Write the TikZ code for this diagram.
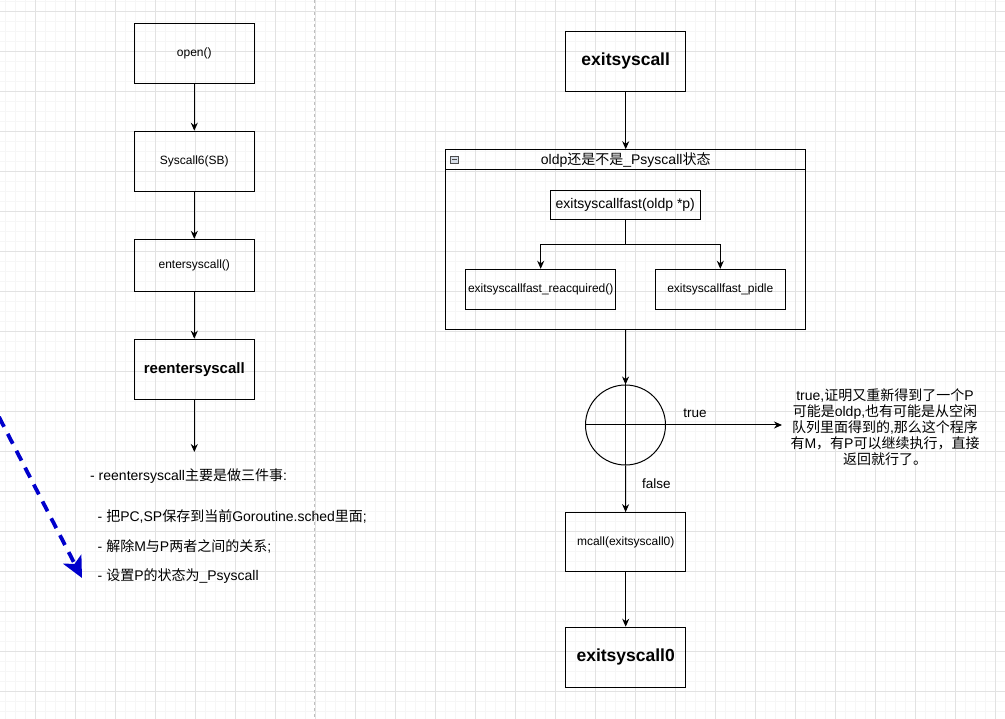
\documentclass[tikz,border=0pt]{standalone}
\usepackage{fontspec}
\setmainfont{Liberation Sans}
\newfontfamily\cjk{Noto Sans CJK SC}
\usepackage{tikz}
\usetikzlibrary{arrows.meta,positioning,calc}
\definecolor{gridminor}{RGB}{246,246,246}
\definecolor{gridmajor}{RGB}{226,226,226}
\definecolor{sepgray}{RGB}{190,190,190}
\definecolor{flowblue}{RGB}{0,0,204}
\definecolor{foldgray}{RGB}{215,222,232}
\newcommand{\zh}[1]{{\cjk #1}}

\begin{document}
\begin{tikzpicture}[
  x=1pt,y=-1pt,
  box/.style={rectangle,draw,line width=1pt,minimum width=120pt,minimum height=60pt,align=center,font=\fontsize{12}{14}\selectfont},
  boldbox/.style={box,font=\fontsize{17.5}{20}\selectfont\bfseries},
  inbox/.style={rectangle,draw,line width=1pt,minimum height=40pt,inner sep=1pt,align=center,font=\fontsize{12}{14}\selectfont},
  grp/.style={rectangle,draw,line width=1pt,minimum width=360pt,minimum height=179.4pt},
  txt/.style={inner sep=0pt,font=\fontsize{14}{16}\selectfont},
  lbl/.style={inner sep=0pt,font=\fontsize{13.5}{15}\selectfont},
  arr/.style={-{Stealth[length=8pt,width=7pt]},line width=1pt},
]
\useasboundingbox (0,0) rectangle (1005,719);
\fill[white] (0,0) rectangle (1005,719);

% Background grid
\foreach \gx in {5,15,...,1005} \draw[gridminor,line width=0.8pt] (\gx,0) -- (\gx,719);
\foreach \gy in {1,11,...,719} \draw[gridminor,line width=0.8pt] (0,\gy) -- (1005,\gy);
\foreach \gx in {35,75,...,1005} \draw[gridmajor,line width=0.8pt] (\gx,0) -- (\gx,719);
\foreach \gy in {11,51,...,719} \draw[gridmajor,line width=0.8pt] (0,\gy) -- (1005,\gy);

% Separator
\draw[sepgray,line width=1pt,dash pattern=on 3pt off 3pt] (314.7,0) -- (314.7,719);

% Syscall path
\node[box] (open) at (194.3,53.2) {open()};
\node[box] (syscall6) at (194.3,161.2) {Syscall6(SB)};
\node[box,minimum height=51.7pt] (enter) at (194.3,265.2) {entersyscall()};
\node[boldbox,font=\fontsize{15}{18}\selectfont\bfseries] (reenter) at (194.3,369.2) {reentersyscall};
\coordinate (reenterend) at (194.3,452);

\draw[arr] (open) -- (syscall6);
\draw[arr] (syscall6) -- (enter);
\draw[arr] (enter) -- (reenter);
\draw[arr] (reenter) -- (reenterend);

% Notes on reentersyscall
\node[txt,anchor=west] (sumhdr) at (90,476) {- reentersyscall\zh{主要是做三件事}:};
\node[txt,anchor=west] (sumpc) at (97.5,516) {- \zh{把}PC,SP\zh{保存到当前}Goroutine.sched\zh{里面};};
\node[txt,anchor=west] (summp) at (97.5,546) {- \zh{解除}M\zh{与}P\zh{两者之间的关系};};
\node[txt,anchor=west] (sumps) at (97.5,576) {- \zh{设置}P\zh{的状态为}\_Psyscall};

% Blue hint
\coordinate (bluestart) at (-1,417);
\coordinate (blueend) at (82,578);
\draw[flowblue,line width=3.8pt,dash pattern=on 11pt off 8pt,-{Stealth[length=21pt,width=20pt,inset=5pt]}] (bluestart) -- (blueend);

% Exit path
\node[boldbox] (exit) at (625.7,61.2) {exitsyscall};

\node[grp] (oldp) at (625.7,239.4) {};
\draw[line width=1pt] ($(oldp.north west)+(0,20)$) -- ($(oldp.north east)+(0,20)$);
\node[txt] (oldphdr) at (625.7,160) {oldp\zh{还是不是}\_Psyscall\zh{状态}};
\node[rectangle,draw=black!70,fill=foldgray,line width=0.6pt,minimum width=8pt,minimum height=7pt,inner sep=0pt] (fold) at (454.5,159.5) {};
\draw[black!70,line width=0.8pt,shorten <=1.8pt,shorten >=1.8pt] (fold.west) -- (fold.east);

\node[inbox,minimum width=150pt,minimum height=29.3pt,font=\fontsize{14}{16}\selectfont] (fast) at (625.3,204.7) {exitsyscallfast(oldp *p)};
\node[inbox,minimum width=150pt] (reacq) at (540.7,289.3) {exitsyscallfast\_reacquired()};
\node[inbox,minimum width=130pt] (pidle) at (720.3,289.3) {exitsyscallfast\_pidle};

\draw[arr] (fast.south) -- ++(0,25) -| (reacq.north);
\draw[arr] (fast.south) -- ++(0,25) -| (pidle.north);

\node[circle,draw,line width=1pt,minimum size=80pt,inner sep=0pt] (check) at (625.5,425) {};
\draw[line width=1pt] (check.north) -- (check.south);
\draw[line width=1pt] (check.west) -- (check.east);

\node[lbl,align=center,font=\fontsize{14}{16}\selectfont] (truenote) at (885,427) {true,\zh{证明又重新得到了一个}P\\\zh{可能是}oldp,\zh{也有可能是从空闲}\\\zh{队列里面得到的},\zh{那么这个程序}\\\zh{有}M\zh{，有}P\zh{可以继续执行，直接}\\\zh{返回就行了。}};

\node[box,minimum height=59.3pt] (mcall) at (625.7,542.3) {mcall(exitsyscall0)};
\node[boldbox] (exit0) at (625.7,657.2) {exitsyscall0};

\draw[arr] (exit) -- (oldp);
\draw[arr] (oldp) -- (check);
\draw[arr] (check.east) -- (782,425) node[lbl,pos=0.25,above=7pt] {true};
\draw[arr] (check.south) -- (mcall) node[lbl,pos=0.38,right=16pt] {false};
\draw[arr] (mcall) -- (exit0);

\end{tikzpicture}
\end{document}
